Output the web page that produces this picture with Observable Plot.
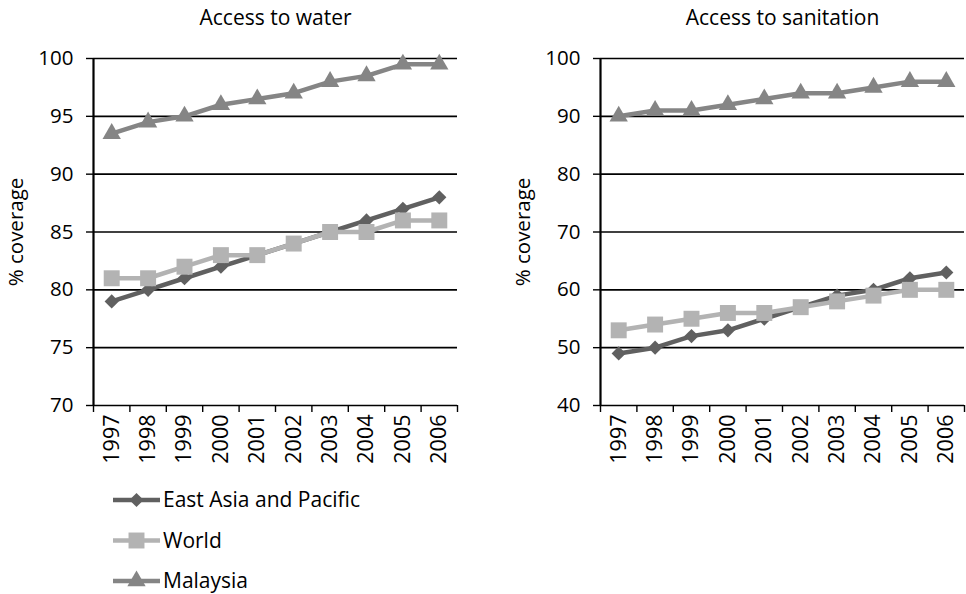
<!DOCTYPE html>
<html><head><meta charset="utf-8">
<script src="https://cdn.jsdelivr.net/npm/d3@7"></script>
<script src="https://cdn.jsdelivr.net/npm/@observablehq/plot@0.6"></script>
<style>
body{margin:0;background:#fff;font-family:"Open Sans",sans-serif;}
#wrap{position:relative;width:966px;height:594px;overflow:hidden;background:#fff;}
#left{position:absolute;left:0;top:0;}
#right{position:absolute;left:500px;top:0;}
#legend{position:absolute;left:0;top:470px;}
svg{overflow:visible;}
</style></head><body>
<div id="wrap"><div id="left"></div><div id="right"></div><div id="legend"></div></div>
<script>
const years = [1997, 1998, 1999, 2000, 2001, 2002, 2003, 2004, 2005, 2006];
const seriesNames = ["East Asia and Pacific", "World", "Malaysia"];
const seriesColors = ["#606060", "#b3b3b3", "#858585"];
const seriesSymbols = ["diamond2", "square", "triangle"];
const seriesRadii = [6.4, 9, 6.8];

const waterEastAsia = [79, 80, 81, 82, 83, 84, 85, 86, 87, 88];
const waterWorld = [81, 81, 82, 83, 83, 84, 85, 85, 86, 86];
const waterMalaysia = [93.5, 94.5, 95, 96, 96.5, 97, 98, 98.5, 99.5, 99.5];

const sanitationEastAsia = [49, 50, 52, 53, 55, 57, 59, 60, 62, 63];
const sanitationWorld = [53, 54, 55, 56, 56, 57, 58, 59, 60, 60];
const sanitationMalaysia = [90, 91, 91, 92, 93, 94, 94, 95, 96, 96];

const waterTicks = [70, 75, 80, 85, 90, 95, 100];
const sanitationTicks = [40, 50, 60, 70, 80, 90, 100];

const titles = ["Access to water", "Access to sanitation"];
const yLabel = "% coverage";

function rows(arrays) {
  return arrays.flatMap((vals, i) => vals.map((v, j) => ({year: years[j], value: v, series: seriesNames[i]})));
}

function panel({title, data, ticks, width, marginLeft, marginRight}) {
  const lo = years[0] - 0.5, hi = years[years.length - 1] + 0.5;
  const boundaries = years.map(y => y - 0.5).concat([hi]);
  const seriesMarks = seriesNames.flatMap((name, i) => {
    const d = data.filter(r => r.series === name);
    return [
      Plot.line(d, {x: "year", y: "value", stroke: seriesColors[i], strokeWidth: 4.5}),
      Plot.dot(d, {x: "year", y: "value", symbol: seriesSymbols[i], r: seriesRadii[i], fill: seriesColors[i], stroke: "none"})
    ];
  });
  return Plot.plot({
    width, height: 480,
    marginLeft, marginRight, marginTop: 58, marginBottom: 75,
    style: {fontFamily: "'Open Sans', sans-serif", color: "#000", background: "transparent", overflow: "visible"},
    x: {domain: [lo, hi]},
    y: {domain: [ticks[0], ticks[ticks.length - 1]]},
    marks: [
      Plot.ruleY(ticks, {stroke: "#000", strokeWidth: 1.6}),
      Plot.ruleX([lo], {stroke: "#000", strokeWidth: 2.2}),
      Plot.axisY({ticks, tickSize: 7, tickPadding: 13, fontSize: 20.5, label: null, color: "#000", strokeWidth: 1.4}),
      Plot.axisX({ticks: years, tickSize: 0, tickPadding: 9, tickRotate: -90, fontSize: 21.5, label: null, tickFormat: "d", color: "#000"}),
      Plot.axisX({ticks: boundaries, tickSize: 7, tickFormat: () => "", label: null, color: "#000", strokeWidth: 1.4}),
      Plot.text([title], {frameAnchor: "top", dy: -40, lineAnchor: "middle", fontSize: 21, text: d => d, fill: "#000"}),
      Plot.text([yLabel], {frameAnchor: "left", dx: -77, rotate: -90, textAnchor: "middle", lineAnchor: "middle", fontSize: 20.5, text: d => d, fill: "#000"}),
      ...seriesMarks
    ]
  });
}

document.getElementById("left").append(panel({
  title: titles[0],
  data: rows([waterEastAsia, waterWorld, waterMalaysia]),
  ticks: waterTicks, width: 480, marginLeft: 93, marginRight: 23
}));
document.getElementById("right").append(panel({
  title: titles[1],
  data: rows([sanitationEastAsia, sanitationWorld, sanitationMalaysia]),
  ticks: sanitationTicks, width: 466, marginLeft: 100, marginRight: 2
}));

// legend
const symMap = {diamond2: d3.symbolDiamond2, square: d3.symbolSquare, triangle: d3.symbolTriangle};
const lg = d3.select("#legend").append("svg").attr("width", 480).attr("height", 124);
seriesNames.forEach((name, i) => {
  const y = 30 + i * 40.5;
  const g = lg.append("g").attr("transform", `translate(0,${y})`);
  g.append("line").attr("x1", 113).attr("x2", 160).attr("stroke", seriesColors[i]).attr("stroke-width", 4.5);
  g.append("path").attr("transform", "translate(136.5,0)")
    .attr("d", d3.symbol(symMap[seriesSymbols[i]], Math.PI * seriesRadii[i] ** 2)())
    .attr("fill", seriesColors[i]);
  g.append("text").attr("x", 163).attr("dy", "0.35em").attr("font-size", 21)
    .attr("font-family", "'Open Sans', sans-serif").attr("fill", "#000").text(name);
});
</script>
</body></html>
